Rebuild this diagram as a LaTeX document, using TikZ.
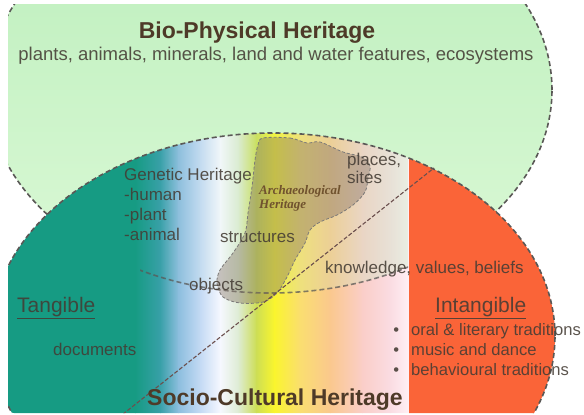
\documentclass[tikz,border=0pt]{standalone}
\usepackage{fontspec}
\setmainfont{Liberation Sans}
\newfontfamily\archfont{Liberation Serif}
\usepackage{tikz}
\usetikzlibrary{positioning}
\usetikzlibrary{fadings}

\definecolor{bioTop}{RGB}{186,238,186}
\definecolor{bioBot}{RGB}{220,249,215}
\definecolor{tealA}{RGB}{22,155,131}
\definecolor{tealB}{RGB}{56,160,168}
\definecolor{skyA}{RGB}{140,190,222}
\definecolor{skyB}{RGB}{196,218,244}
\definecolor{whiteA}{RGB}{246,248,255}
\definecolor{paleG}{RGB}{222,236,212}
\definecolor{yelG}{RGB}{205,222,85}
\definecolor{yelA}{RGB}{250,245,45}
\definecolor{yelB}{RGB}{250,222,112}
\definecolor{peach}{RGB}{250,200,142}
\definecolor{pinkA}{RGB}{250,206,200}
\definecolor{pinkB}{RGB}{250,220,226}
\definecolor{pinkW}{RGB}{255,240,245}
\definecolor{redA}{RGB}{250,100,56}
\definecolor{lineGrey}{RGB}{90,88,86}
\definecolor{textGrey}{RGB}{68,60,52}
\definecolor{titleBrown}{RGB}{78,58,40}
\definecolor{archBrown}{RGB}{112,82,46}
\definecolor{blobFill}{RGB}{125,105,90}

\tikzfading[name=lensfade, left color=transparent!100, middle color=transparent!0, right color=transparent!0]

\begin{document}
\begin{tikzpicture}[x=1pt,y=-1pt,
	border/.style={draw=lineGrey, line width=1.6pt, dash pattern=on 5pt off 3pt},
	blob/.style={fill=blobFill, fill opacity=0.38, draw=lineGrey!80, line width=0.8pt, dash pattern=on 3pt off 2pt},
	divider/.style={draw=lineGrey!90!red, line width=1.1pt, dash pattern=on 4pt off 2pt},
	txt/.style={text=textGrey, text opacity=0.88, font=\fontsize{17}{20}\selectfont, inner sep=0pt, anchor=base west},
	nextline/.style={txt, below=20pt of #1.base west, anchor=base west},
	listline/.style={nextline=#1, font=\fontsize{16.6}{20}\selectfont},
	heading/.style={text=titleBrown, font=\fontsize{23}{27}\selectfont\bfseries, inner sep=0pt, anchor=base},
	side/.style={txt, font=\fontsize{21}{25}\selectfont},
	arch/.style={text=archBrown, font=\archfont\fontsize{13}{15}\selectfont\bfseries\itshape, inner sep=0pt, anchor=base west}]

	\useasboundingbox (0,0) rectangle (584,415);

	\begin{scope}
		\clip[rounded corners=6pt] (8,4) rectangle (590,413);
		% bio-physical
		\shade[top color=bioTop, bottom color=bioBot] (270,90) ellipse [x radius=282pt, y radius=203pt];
		\draw[border] (270,90) ellipse [x radius=282pt, y radius=203pt];
		% socio-cultural
		\begin{scope}
			\clip (273,336) ellipse [x radius=282pt, y radius=203pt];
			\foreach \xa/\ca/\xb/\cb in {0/tealA/135/tealA, 135/tealA/160/tealB, 160/tealB/178/skyA,
					178/skyA/200/skyB, 200/skyB/220/whiteA, 220/whiteA/238/paleG, 238/paleG/256/yelG,
					256/yelG/274/yelA, 274/yelA/300/yelB, 300/yelB/330/peach, 330/peach/362/pinkA,
					362/pinkA/390/pinkB, 390/pinkB/408.5/pinkW}
				\shade[left color=\ca, right color=\cb] (\xa,120) rectangle (\xb+0.6,420);
			\fill[redA] (408.5,120) rectangle (590,420);
		\end{scope}
		% overlap
		\begin{scope}
			\clip (273,336) ellipse [x radius=282pt, y radius=203pt];
			\clip (270,90) ellipse [x radius=282pt, y radius=203pt];
			\fill[bioTop, fill opacity=0.3, path fading=lensfade] (150,120) rectangle (408.5,300);
		\end{scope}
		\begin{scope}
			\clip (140,0) rectangle (408,415);
			\draw[border, draw opacity=0.75] (270,90) ellipse [x radius=282pt, y radius=203pt];
		\end{scope}
		\draw[border] (273,336) ellipse [x radius=282pt, y radius=203pt];
		% archaeological
		\path[blob] plot[smooth cycle, tension=0.55] coordinates {(263,138) (290,138) (307,143) (320,142)
			(343,152) (362,157) (370,166) (368,178) (365,192) (353,205) (337,215) (320,222) (310,230)
			(305,243) (295,260) (287,277) (277,293) (263,302) (240,303) (223,297) (217,283) (220,270)
			(233,253) (245,233) (248,213) (252,187) (255,160) (258,145)};
		% tangible / intangible
		\coordinate (diagLow) at (118,418);
		\coordinate (diagHigh) at (434,168);
		\draw[divider] (diagLow) -- (diagHigh);
	\end{scope}

	\node[heading] (bio) at (257,38) {Bio-Physical Heritage};
	\node[txt, anchor=base, font=\fontsize{18.5}{22}\selectfont] (bioList) at (276,60) {plants, animals, minerals, land and water features, ecosystems};

	\node[txt] (genetic) at (124,180) {Genetic Heritage};
	\node[nextline=genetic] (human) {-human};
	\node[nextline=human] (plant) {-plant};
	\node[nextline=plant] (animal) {-animal};

	\node[txt] (places) at (347,165) {places,};
	\node[txt] (sites) at (347,183) {sites};
	\node[arch] (archA) at (259,194) {Archaeological};
	\node[arch, below=14pt of archA.base west, anchor=base west] (archB) {Heritage};
	\node[txt] (structures) at (220,242) {structures};
	\node[txt] (objects) at (189,290) {objects};
	\node[txt] (knowledge) at (325,273) {knowledge, values, beliefs};

	\node[side] (tangible) at (17,312) {\underline{Tangible}};
	\node[txt] (documents) at (53,355) {documents};
	\node[side] (intangible) at (435,312) {\underline{Intangible}};
	\node[txt, font=\fontsize{16.6}{20}\selectfont] (oral) at (411,335) {\llap{\textbullet\hspace{12pt}}oral \& literary traditions};
	\node[listline=oral] (music) {\llap{\textbullet\hspace{12pt}}music and dance};
	\node[listline=music] (behaviour) {\llap{\textbullet\hspace{12pt}}behavioural traditions};

	\node[heading] (socio) at (275,405) {Socio-Cultural Heritage};
\end{tikzpicture}
\end{document}
